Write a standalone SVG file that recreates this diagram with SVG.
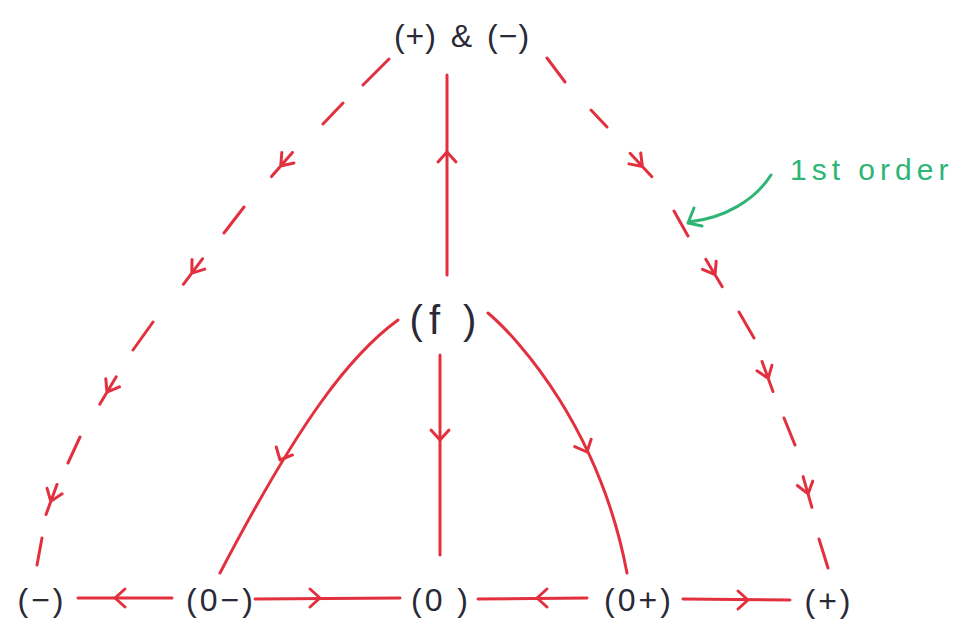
<svg xmlns="http://www.w3.org/2000/svg" xmlns:xlink="http://www.w3.org/1999/xlink" width="974" height="619" viewBox="0 0 974 619">
<style>
.lbl{font-family:"Liberation Sans","DejaVu Sans",sans-serif;font-size:32px;fill:#2a2a36;text-anchor:middle;letter-spacing:3px}
.ln{fill:none;stroke:#e2303e;stroke-width:3;stroke-linecap:round;stroke-linejoin:round}
.grn{fill:none;stroke:#2cb574;stroke-width:3;stroke-linecap:round;stroke-linejoin:round}
.gtxt{font-family:"Liberation Sans","DejaVu Sans",sans-serif;font-size:30px;fill:#2cb574;letter-spacing:5px}
</style>
<defs>
<path id="chev" d="M-10,-9 L0,0 L-10,9"/>
<path id="ychev" d="M-16,0 L16,0 M2,0 L-9,-8 M2,0 L-9,8"/>
</defs>
<rect width="974" height="619" fill="#ffffff"/>
<g id="connectors">
<g class="ln" id="dashed-left">
<path d="M389,59 L363,85 M343,103 L323,124 M244,207 L224,233 M153,322 L133,350 M80,437 L68,463 M42,538 L37,565"/>
<use xlink:href="#ychev" transform="translate(282,164.5) rotate(131)"/>
<use xlink:href="#ychev" transform="translate(193,271.5) rotate(127)"/>
<use xlink:href="#ychev" transform="translate(108,390.5) rotate(121)"/>
<use xlink:href="#ychev" transform="translate(51.5,499.5) rotate(110)"/>
</g>
<g class="ln" id="dashed-right">
<path d="M547,58 L565,82 M591,110 L607,127 M674,211 L688,236 M739,312 L754,338 M784,418 L795,445 M819,539 L828,568"/>
<use xlink:href="#ychev" transform="translate(641,165) rotate(47)"/>
<use xlink:href="#ychev" transform="translate(714,273) rotate(59)"/>
<use xlink:href="#ychev" transform="translate(767.5,376.5) rotate(70)"/>
<use xlink:href="#ychev" transform="translate(807.5,492) rotate(74)"/>
</g>
<path class="ln" d="M447,275 L447,75"/>
<use class="ln" xlink:href="#chev" transform="translate(447,152) rotate(-90)"/>
<path class="ln" d="M440,355 L440,555"/>
<use class="ln" xlink:href="#chev" transform="translate(440,440) rotate(90)"/>
<path class="ln" d="M398,320 C350,355 300,420 220,573"/>
<use class="ln" xlink:href="#chev" transform="translate(280,460) rotate(116)"/>
<path class="ln" d="M488,313 C520,340 600,430 627,573"/>
<use class="ln" xlink:href="#chev" transform="translate(587,452) rotate(66)"/>
<path class="ln" d="M78,598 L172,598"/>
<use class="ln" xlink:href="#chev" transform="translate(115,598) rotate(180)"/>
<path class="ln" d="M255,599 L400,598"/>
<use class="ln" xlink:href="#chev" transform="translate(320,598)"/>
<path class="ln" d="M478,599 L587,598"/>
<use class="ln" xlink:href="#chev" transform="translate(537,598) rotate(180)"/>
<path class="ln" d="M683,599 L790,600"/>
<use class="ln" xlink:href="#chev" transform="translate(748,600)"/>
</g>
<g id="annotation">
<path class="grn" d="M771,175 C755,200 725,218 689,222"/>
<path class="grn" d="M694,208 L688,223 L702,226"/>
<text class="gtxt" x="790" y="180">1st order</text>
</g>
<g id="node-top"><text class="lbl" x="462" y="47" style="letter-spacing:1px;word-spacing:4px">(+) &amp; (−)</text></g>
<g id="node-f"><text class="lbl" x="446" y="334" style="font-size:40px;letter-spacing:6px">(f )</text></g>
<g id="node-minus"><text class="lbl" x="42" y="611">(−)</text></g>
<g id="node-0minus"><text class="lbl" x="221" y="611">(0−)</text></g>
<g id="node-0"><text class="lbl" x="441" y="611">(0 )</text></g>
<g id="node-0plus"><text class="lbl" x="639" y="611">(0+)</text></g>
<g id="node-plus"><text class="lbl" x="829" y="612">(+)</text></g>
</svg>
